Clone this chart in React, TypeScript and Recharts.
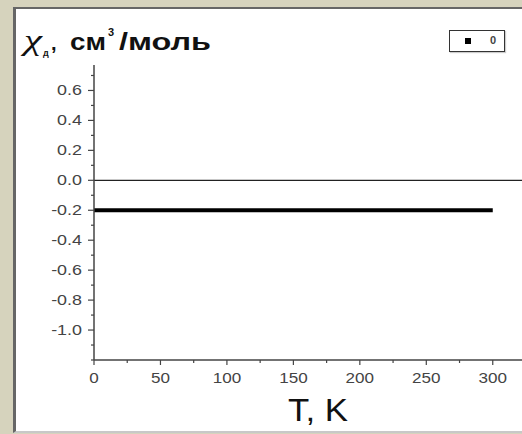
import React from 'react';
import { LineChart, Line, XAxis, YAxis, ReferenceLine, Legend } from 'recharts';

const temperatures = [0, 50, 100, 150, 200, 250, 300];
const chiValues = [-0.2, -0.2, -0.2, -0.2, -0.2, -0.2, -0.2];
const xTicks = [0, 25, 50, 75, 100, 125, 150, 175, 200, 225, 250, 275, 300];
const xLabels = [0, 50, 100, 150, 200, 250, 300];
const yTicks = [-1.2, -1.1, -1.0, -0.9, -0.8, -0.7, -0.6, -0.5, -0.4, -0.3, -0.2, -0.1, 0, 0.1, 0.2, 0.3, 0.4, 0.5, 0.6, 0.7];
const yLabels = [-1.0, -0.8, -0.6, -0.4, -0.2, 0, 0.2, 0.4, 0.6];
const seriesName = '0';

const data = temperatures.map((t, i) => ({ T: t, chi: chiValues[i] }));

const isLabel = (arr: number[], v: number) => arr.some((a) => Math.abs(a - v) < 1e-6);
const SANS = "Arial, 'Liberation Sans', sans-serif";

const YTick = (props: any) => {
  const { x, y, payload } = props;
  const v = payload.value as number;
  const major = isLabel(yLabels, v);
  return (
    <g>
      <line x1={x - (major ? 6 : 3)} x2={x} y1={y} y2={y} stroke="#444" strokeWidth={1.2} />
      {major && (
        <text transform={`translate(${x - 12},${y + 5}) scale(1.28,1)`} textAnchor="end" fontSize={14} fill="#444" fontFamily={SANS}>
          {v.toFixed(1)}
        </text>
      )}
    </g>
  );
};

const XTick = (props: any) => {
  const { x, y, payload } = props;
  const v = payload.value as number;
  const major = isLabel(xLabels, v);
  return (
    <g>
      <line x1={x} x2={x} y1={y} y2={y + (major ? 5 : 3)} stroke="#444" strokeWidth={1.2} />
      {major && (
        <text transform={`translate(${x},${y + 23}) scale(1.22,1)`} textAnchor="middle" fontSize={14} fill="#444" fontFamily={SANS}>
          {String(v)}
        </text>
      )}
    </g>
  );
};

const LegendBox = (props: any) => {
  const item = props.payload && props.payload[0];
  return (
    <div style={{ width: 54, height: 20, border: '1.5px solid #333', background: '#fff', position: 'relative', boxShadow: '1px 1px 1px #ccc' }}>
      <div style={{ position: 'absolute', left: 15, top: 7, width: 6, height: 6, background: '#000' }} />
      <div style={{ position: 'absolute', left: 40, top: 3, fontSize: 11, fontWeight: 'bold', fontFamily: 'Arial, sans-serif', color: '#444' }}>
        {item ? item.value : seriesName}
      </div>
    </div>
  );
};

export default function App() {
  return (
    <div style={{ position: 'absolute', left: 0, top: 0, width: 522, height: 434, background: '#d6d3bd', overflow: 'hidden' }}>
      <div style={{ position: 'absolute', left: 13, top: 7, width: 520, height: 422, background: '#fff', borderLeft: '3px solid #666', borderTop: '2px solid #666', borderBottom: '2px solid #c8c8c8' }} />
      <div style={{ position: 'absolute', left: 0, top: 0 }}>
        <LineChart width={522} height={434} data={data} margin={{ top: 65, right: 0, bottom: 0, left: 0 }}>
          <XAxis
            dataKey="T"
            type="number"
            domain={[0, 322]}
            ticks={xTicks}
            interval={0}
            height={74}
            tickSize={0}
            tickMargin={0}
            tick={<XTick />}
            axisLine={{ stroke: '#444', strokeWidth: 1.5 }}
            allowDataOverflow
          />
          <YAxis
            type="number"
            domain={[-1.2, 0.77]}
            ticks={yTicks}
            interval={0}
            width={94}
            tickSize={0}
            tickMargin={0}
            tick={<YTick />}
            axisLine={{ stroke: '#444', strokeWidth: 1.5 }}
            allowDataOverflow
          />
          <ReferenceLine y={0} stroke="#222" strokeWidth={1.2} />
          <Line dataKey="chi" name={seriesName} stroke="#000" strokeWidth={4} dot={false} isAnimationActive={false} />
          <Legend
            layout="horizontal"
            verticalAlign="middle"
            align="center"
            content={<LegendBox />}
            wrapperStyle={{ position: 'absolute', left: 449, top: 30, width: 57, height: 23 }}
          />
          <g fill="#111">
            <text x={24} y={50} fontSize={29} fontStyle="italic" fontFamily="'Liberation Serif', 'DejaVu Serif', serif" textLength={18} lengthAdjust="spacingAndGlyphs">χ</text>
            <text x={43} y={56} fontSize={9} fontWeight="bold" fontFamily={SANS}>д</text>
            <text x={51} y={50} fontSize={20} fontWeight="bold" fontFamily={SANS}>,</text>
            <text x={70} y={50} fontSize={23} fontWeight="bold" fontFamily={SANS} textLength={36} lengthAdjust="spacingAndGlyphs">см</text>
            <text x={108} y={36} fontSize={11} fontWeight="bold" fontFamily={SANS}>3</text>
            <text x={119} y={50} fontSize={23} fontWeight="bold" fontFamily={SANS} textLength={92} lengthAdjust="spacingAndGlyphs">/моль</text>
          </g>
          <text x={288} y={421} fontSize={31} fill="#111" fontFamily={SANS} textLength={60} lengthAdjust="spacingAndGlyphs">
            T, K
          </text>
        </LineChart>
      </div>
    </div>
  );
}
